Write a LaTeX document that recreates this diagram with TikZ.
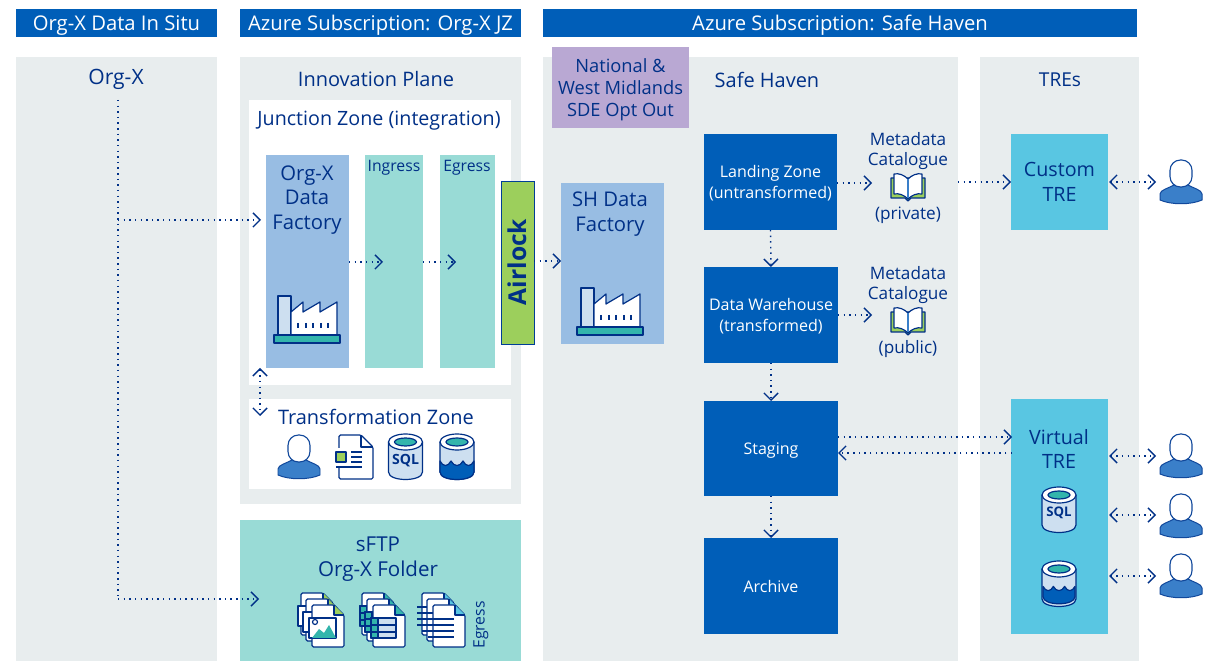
\documentclass[tikz,border=0pt]{standalone}
\usepackage{fontspec}
\setmainfont{Open Sans}
\usetikzlibrary{arrows.meta}
\definecolor{navy}{HTML}{003087}
\definecolor{nhsblue}{HTML}{005EB8}
\definecolor{palegrey}{HTML}{E8EDEE}
\definecolor{factoryblue}{HTML}{98BDE3}
\definecolor{aqua}{HTML}{99DBD6}
\definecolor{trecyan}{HTML}{59C6E2}
\definecolor{lime}{HTML}{9CCF5C}
\definecolor{lilac}{HTML}{B9A8D3}
\definecolor{canblue}{HTML}{CDDFF0}
\definecolor{deepteal}{HTML}{33B5AC}
\definecolor{personblue}{HTML}{3A7FC9}
\newcommand{\fs}[2]{\fontsize{#1}{#2}\selectfont}
\tikzset{
  box/.style args={#1/#2/#3/#4}{draw=none, inner sep=0pt, outer sep=0pt, align=center,
    minimum width={(#3-#1)*0.025cm}, minimum height={(#4-#2)*0.025cm},
    at={({(#1+#3)/2},{(#2+#4)/2})}},
  lbl/.style={text=navy, align=center, inner sep=0pt},
  title/.style={text=white, font=\fs{14.4}{16}, text depth=0pt},
  heading/.style={lbl, font=\fs{14.2}{17.4}},
  darkbox/.style={fill=nhsblue, text=white, font=\fs{11.4}{14.4}},
  iconline/.style={draw=navy, line width=0.85pt, line join=round},
  link/.style={navy, line width=1pt, dash pattern=on 1pt off 3pt,
    -{Straight Barb[length=5pt,width=10pt,line width=1pt]}},
  duallink/.style={link, {Straight Barb[length=5pt,width=10pt,line width=1pt]}-{Straight Barb[length=5pt,width=10pt,line width=1pt]}},
  pics/person/.style={code={
    \draw[draw=navy!70!personblue, line width=0.7pt, fill=personblue] (-21,40) -- (-21,34) .. controls (-21,30) and (-12,28) .. (-7,25)
      -- (7,25) .. controls (12,28) and (21,30) .. (21,34) -- (21,40) .. controls (10,45) and (-10,45) .. (-21,40) -- cycle;
    \draw[draw=navy!70!personblue, line width=0.8pt, fill=white, rounded corners=0.26cm] (-11,0) rectangle (11,27);
  }},
  pics/can/.style={code={
    \draw[iconline,fill=canblue] (-17,8) -- (-17,38) .. controls (-17,48) and (17,48) .. (17,38) -- (17,8);
    \draw[iconline,fill=white] (0,8) ellipse [x radius=17,y radius=8];
    \draw[iconline,fill=deepteal] (0,8) ellipse [x radius=11,y radius=4];
  }},
  pics/sqlcan/.style={code={
    \pic {can};
    \node[lbl, transform shape, font=\bfseries\fs{10}{10}] (#1) at (0,27) {SQL};
  }},
  pics/watercan/.style={code={
    \pic {can};
    \draw[iconline,fill=nhsblue] (-17,27) .. controls (-14,33) and (-9,33) .. (-6,27) .. controls (-3,33) and (3,33) .. (6,27)
      .. controls (9,33) and (14,33) .. (17,27) -- (17,38) .. controls (17,48) and (-17,48) .. (-17,38) -- cycle;
  }},
  pics/factory/.style={code={
    \draw[iconline,fill=canblue] (-29,-47) rectangle (-16,-8);
    \draw[iconline,fill=white] (-16,-8) -- (-16,-31) -- (-4,-41) -- (-4,-31) -- (13,-41) -- (13,-31) -- (30,-41) -- (30,-8) -- cycle;
    \foreach \tick in {-9,-1,6,14,21} \draw[iconline] (\tick,-20) -- (\tick,-15);
    \draw[iconline,fill=deepteal] (-33,-8) rectangle (33,0);
  }},
  pics/book/.style={code={
    \draw[iconline,fill=lime] (-17,5) -- (-17,25) -- (-3,25) -- (0,28) -- (3,25) -- (17,25) -- (17,5) -- cycle;
    \draw[iconline,fill=white] (0,6) .. controls (-4,2) and (-9,0) .. (-14,1) -- (-14,21) .. controls (-9,20) and (-4,22) .. (0,26) -- cycle;
    \draw[iconline,fill=white] (0,6) .. controls (4,2) and (9,0) .. (14,1) -- (14,21) .. controls (9,20) and (4,22) .. (0,26) -- cycle;
    \draw[draw=personblue, line width=1pt] (0,6) -- (0,25);
  }},
  pics/page/.style={code={
    \draw[iconline,fill=white,rounded corners=1pt] (0,0) -- (22,0) -- (32,10) -- (32,42) -- (0,42) -- cycle;
    \draw[iconline,fill=#1] (22,0) -- (22,10) -- (32,10);
    \fill[#1] (23,2) -- (23,9) -- (30,9) -- cycle;
  }},
  pics/notedoc/.style={code={
    \draw[iconline,rounded corners=1pt] (3,13) |- (25,0) -- (37,12) |- (3,44) -- (3,33);
    \draw[iconline] (25,0) -- (25,12) -- (37,12);
    \draw[iconline,fill=lime] (0,17) rectangle (10,27);
    \draw[iconline] (15,17) -- (26,17) (15,22) -- (26,22) (15,27) -- (26,27) (0,32) -- (26,32);
  }}
}
\begin{document}
\begin{tikzpicture}[x=0.025cm,y=-0.025cm]
\useasboundingbox (0,0) rectangle (1211,661);
% title bars
\node[box=16/9/217/37, fill=nhsblue, title] (insitu) {Org-X Data In Situ};
\node[box=240/9/521/37, fill=nhsblue, title] (jzsub) {Azure Subscription: Org-X JZ};
\node[box=543/9/1137/37, fill=nhsblue, title] (shsub) {Azure Subscription: Safe Haven};
% panels
\node[box=16/57/217/661, fill=palegrey] (orgxpanel) {};
\node[box=240/57/521/504, fill=palegrey] (planepanel) {};
\node[box=543/57/958/661, fill=palegrey] (shpanel) {};
\node[box=980/57/1139/661, fill=palegrey] (trepanel) {};
\node[box=249/100/511/385, fill=white] (junction) {};
\node[box=249/399/511/489, fill=white] (transform) {};
\node[box=240/520/521/661, fill=aqua] (sftp) {};
% panel headings
\node[heading, font=\fs{15}{17.4}] (orgx) at (116,79) {Org-X};
\node[heading] (plane) at (376,79) {Innovation Plane};
\node[heading, font=\fs{14}{17.4}] (junctionlbl) at (379,121) {Junction Zone (integration)};
\node[heading] (transformlbl) at (376,417) {Transformation Zone};
\node[heading, font=\fs{14.6}{17.4}] (sftplbl) at (378,559) {sFTP\\Org-X Folder};
\node[heading] (shlbl) at (767,80) {Safe Haven};
\node[heading, font=\fs{13.6}{17.4}] (trelbl) at (1060,80) {TREs};
\node[box=552/47/689/128, fill=lilac] (optout) {};
\node[lbl, font=\fs{13}{15.8}] (optoutlbl) at (620.5,90) {National \&\\West Midlands\\SDE Opt Out};
% junction zone
\node[box=266/155/349/368, fill=factoryblue] (factory) {};
\node[box=365/155/423/368, fill=aqua] (ingress) {};
\node[box=440/155/495/368, fill=aqua] (egress) {};
\node[box=501/181/534/344, fill=lime, draw=navy!70!nhsblue, line width=0.7pt] (airlock) {};
\node[lbl, rotate=90, font=\bfseries\fs{17.5}{17.5}] (airlocklbl) at (517,262) {Airlock};
\node[lbl, font=\fs{14.4}{17.4}] (factorylbl) at (307,200) {Org-X\\Data\\Factory};
\node[lbl, font=\fs{11.2}{14}] (ingresslbl) at (394,168) {Ingress};
\node[lbl, font=\fs{11.2}{14}] (egresslbl) at (467,168) {Egress};
\pic at (307,343) {factory};
% safe haven
\node[box=561/183/664/344, fill=factoryblue] (shfactory) {};
\node[lbl, font=\fs{14.4}{17.6}] (shfactorylbl) at (610,214) {SH Data\\Factory};
\pic at (610,335) {factory};
\node[box=704/134/837/230, darkbox, text depth=0pt] (landing) {Landing Zone\\(untransformed)};
\node[box=704/267/838/363, darkbox, text depth=0pt] (warehouse) {Data Warehouse\\(transformed)};
\node[box=704/401/838/496, darkbox, text depth=0pt] (staging) {Staging};
\node[box=704/538/838/634, darkbox] (archive) {Archive};
\node[lbl, font=\fs{12.2}{14.4}] (metaprivate) at (908,151) {Metadata\\Catalogue};
\node[lbl, font=\fs{12.2}{14.4}] (privatelbl) at (908,215) {(private)};
\pic at (908,173) {book};
\node[lbl, font=\fs{12.2}{14.4}] (metapublic) at (908,285) {Metadata\\Catalogue};
\node[lbl, font=\fs{12.2}{14.4}] (publiclbl) at (908,349) {(public)};
\pic at (908,307) {book};
% TREs
\node[box=1011/134/1108/230, fill=trecyan, lbl, font=\fs{14}{17.8}] (customtre) {Custom\\TRE};
\node[box=1011/399/1108/634, fill=trecyan] (virtualtre) {};
\node[lbl, font=\fs{14}{17.6}] (virtuallbl) at (1059,449) {Virtual\\TRE};
\pic[scale=0.94] at (1059,487) {sqlcan=virtualsql};
\pic[scale=0.94] at (1059,561) {watercan};
% people
\pic at (1181,160) {person};
\pic at (1181,434) {person};
\pic at (1181,494) {person};
\pic at (1181,554) {person};
\pic at (299,435) {person};
% transformation zone icons
\pic at (336,435) {notedoc};
\pic at (405.5,434) {sqlcan=zonesql};
\pic at (457,434) {watercan};
% sftp stacks
\foreach \dx/\dy in {301/593,306/599,312/605} {
  \begin{scope}[shift={(\dx,\dy)}]
    \pic {page=lime};
    \draw[iconline,fill=white] (-3,13) rectangle (24,33);
  \end{scope}
}
\fill[deepteal] (312,638) -- (319,629) -- (324,633) -- (329,625) -- (336,638) -- cycle;
\draw[iconline] (315,622) circle [radius=2.5];
\foreach \dx/\dy in {362/593,367/599,373/605} {
  \begin{scope}[shift={(\dx,\dy)}]
    \pic {page=deepteal};
    \draw[iconline,fill=canblue] (-2,13) rectangle (23,33);
    \draw[iconline,fill=deepteal] (-2,13) rectangle (5,33);
    \draw[iconline] (-2,20) -- (23,20) (-2,27) -- (23,27);
  \end{scope}
}
\foreach \dx/\dy in {422/593,427/599,433/605} {
  \begin{scope}[shift={(\dx,\dy)}]
    \pic {page=trecyan};
    \draw[iconline] (-5,14) -- (21,14) (-5,20) -- (21,20) (-5,26) -- (21,26) (-5,32) -- (21,32);
  \end{scope}
}
\node[lbl, rotate=90, font=\fs{11.2}{14}] (sftpegress) at (481,625) {Egress};
% connector ends
\coordinate (orgxout) at (118,100);
\coordinate (factoryin) at (261,220);
\coordinate (sftpin) at (259,599);
\coordinate (ingressin) at (383,262);
\coordinate (egressin) at (456,262);
\coordinate (airlockout) at (534,261);
\coordinate (shin) at (561,261);
\coordinate (privatein) at (872,183);
\coordinate (publicin) at (872,315);
\coordinate (treout) at (958,182);
\coordinate (treup) at (260,368);
\coordinate (tredown) at (260,416);
\coordinate (customright) at (1109,182);
\coordinate (customuser) at (1156,182);
\coordinate (virtual1) at (1109,456);
\coordinate (user1) at (1156,456);
\coordinate (virtual2) at (1109,515);
\coordinate (user2) at (1156,515);
\coordinate (virtual3) at (1109,576);
\coordinate (user3) at (1156,576);
\coordinate (stagingtop) at (838,437);
\coordinate (virtualtop) at (1012,437);
\coordinate (stagingbot) at (838,453);
\coordinate (virtualbot) at (1012,453);
% connectors
\draw[link, -] (orgxout) -- (orgxout |- sftpin);
\draw[link] (orgxout |- factoryin) -- (factoryin);
\draw[link] (orgxout |- sftpin) -- (sftpin);
\draw[duallink] (treup) -- (tredown);
\draw[link] (factory.east |- ingressin) -- (ingressin);
\draw[link] (ingress.east |- egressin) -- (egressin);
\draw[link] (airlockout) -- (shin);
\draw[link] (landing.east |- privatein) -- (privatein);
\draw[link] (warehouse.east |- publicin) -- (publicin);
\draw[link] (treout) -- (customtre.west |- treout);
\draw[link] (landing.south) -- (warehouse.north);
\draw[link] (warehouse.south) -- (staging.north);
\draw[link] (staging.south) -- (archive.north);
\draw[link] (stagingtop) -- (virtualtop);
\draw[link] (virtualbot) -- (stagingbot);
\draw[duallink] (customright) -- (customuser);
\draw[duallink] (virtual1) -- (user1);
\draw[duallink] (virtual2) -- (user2);
\draw[duallink] (virtual3) -- (user3);
\end{tikzpicture}
\end{document}
